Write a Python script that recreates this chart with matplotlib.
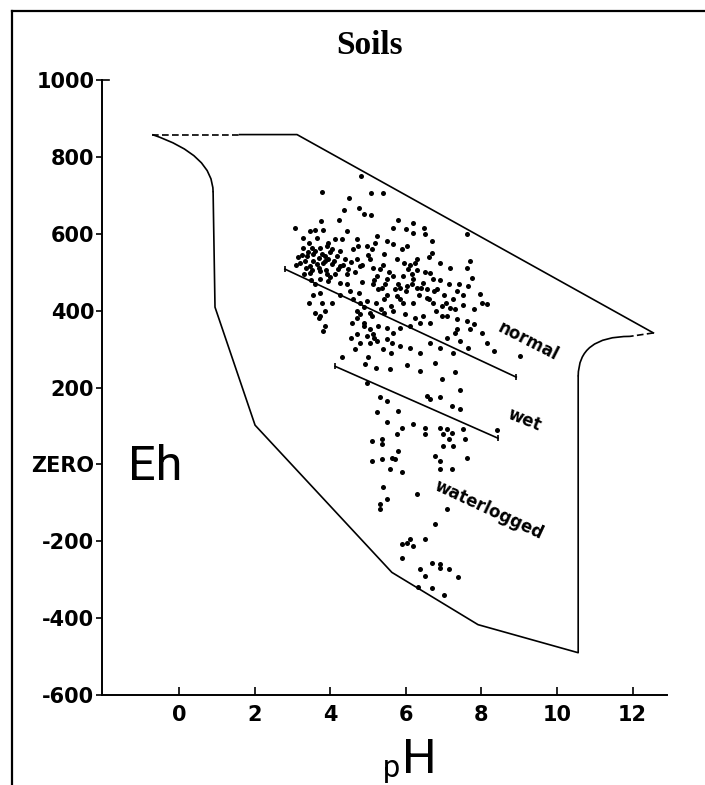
import matplotlib
matplotlib.use("Agg")
import matplotlib.pyplot as plt
from matplotlib.path import Path
from matplotlib.patches import PathPatch
from matplotlib.lines import Line2D

# ---------------- data ----------------
title = "Soils"
y_ticks = [1000, 800, 600, 400, 200, 0, -200, -400, -600]
y_tick_labels = ["1000", "800", "600", "400", "200", "ZERO", "-200", "-400", "-600"]
x_ticks = [0, 2, 4, 6, 8, 10, 12]
x_tick_labels = ["0", "2", "4", "6", "8", "10", "12"]

# envelope of natural environments
top_dash_ph = [-0.71, 1.6]
top_dash_eh = [858, 858]
outline_ph = [1.6, 3.12, 12.55]
outline_eh = [858, 858, 342]
tip_dash_ph = [12.55, 11.93]
tip_dash_eh = [342, 333]
right_curve_ph = [11.93, 10.56, 10.56]
right_curve_eh = [333, 333, 229]
lower_ph = [10.56, 10.56, 7.91, 5.63, 2.01, 0.95, 0.90]
lower_eh = [229, -490, -417, -281, 102, 409, 708]
left_curve_ph = [0.90, 0.90, -0.71]
left_curve_eh = [708, 805, 858]

# dividing lines
normal_ph = [2.80, 8.92]
normal_eh = [508, 227]
wet_ph = [4.13, 8.44]
wet_eh = [255, 68]

zone_labels = ["normal", "wet", "waterlogged"]
zone_label_ph = [9.23, 9.15, 8.20]
zone_label_eh = [320, 117, -117]
zone_label_rot = [-27, -22, -25]

# soil measurements (pH, Eh in mV)
soil_ph = [
    4.81, 3.79, 5.08, 5.39, 4.50, 4.37, 4.77, 4.89, 5.08, 3.75, 4.24, 5.80, 6.18,
    3.08, 3.47, 3.60, 3.80, 3.29, 3.64, 4.13, 4.30, 4.44, 4.72, 5.23, 5.67, 6.01,
    6.20, 6.49, 6.51, 6.68, 7.61, 4.73, 4.96, 5.19, 5.67, 6.02, 6.68, 3.29, 3.51,
    3.73, 3.91, 4.04, 4.26, 3.38, 3.55, 3.69, 3.86, 3.95, 4.17, 4.39, 4.70, 5.05,
    5.41, 5.76, 6.29, 6.90, 7.70, 3.20, 3.33, 3.47, 3.64, 3.82, 4.04, 4.26, 4.48,
    4.79, 5.14, 5.32, 6.07, 6.16, 6.64, 7.17, 7.61, 7.74, 3.47, 3.73, 3.91, 4.13,
    4.44, 5.23, 5.49, 5.67, 5.93, 6.20, 6.46, 6.73, 7.13, 7.65, 3.73, 3.95, 4.26,
    4.52, 5.14, 5.36, 5.85, 6.02, 6.29, 6.55, 6.82, 7.35, 7.96, 8.14, 3.73, 4.04,
    3.77, 4.79, 4.96, 5.41, 5.76, 5.93, 6.20, 6.55, 6.73, 6.95, 7.17, 7.52, 8.01,
    3.73, 3.86, 4.70, 4.79, 5.10, 5.41, 5.67, 5.98, 6.24, 6.46, 6.64, 7.08, 7.35,
    7.61, 7.79, 3.86, 3.82, 4.57, 4.88, 5.05, 5.27, 5.49, 5.85, 6.11, 6.38, 7.35,
    7.70, 8.01, 7.30, 4.70, 4.96, 5.14, 5.67, 7.08, 7.43, 7.65, 8.14, 8.32, 4.79,
    5.05, 5.23, 5.49, 5.63, 5.85, 6.11, 6.38, 6.64, 6.90, 7.26, 9.02, 4.30, 4.92,
    5.58, 6.02, 6.38, 6.77, 6.95, 7.30, 7.43, 6.55, 6.64, 6.90, 7.21, 4.96, 5.32,
    5.49, 5.80, 5.23, 7.43,
    6.18, 6.51, 6.51, 6.90, 7.08, 6.99, 7.21, 7.13, 7.52, 7.57, 8.40, 5.76, 5.10,
    5.36, 5.36, 5.10, 5.36, 5.63, 5.71, 5.80, 5.58, 5.89, 6.77, 6.90, 6.90, 7.21,
    6.99, 7.26, 7.61, 5.39, 5.49, 5.32, 5.32, 6.29, 7.08, 6.77, 6.11, 6.02, 5.89,
    6.20, 6.51, 5.89, 6.68, 6.90, 6.90, 7.13, 6.38, 6.51, 7.39, 6.33, 6.68, 7.01,
    5.51, 5.89,
    3.25, 3.40, 3.55, 3.60, 3.78, 3.85, 3.98, 4.10, 4.20, 3.35, 3.52, 3.70, 3.88,
    4.00, 4.35, 4.55, 3.15, 3.45, 3.95, 4.60, 5.00, 5.40, 5.55, 5.80, 6.00, 6.35,
    6.50, 6.90, 7.00, 5.95, 6.25, 4.85, 5.25, 7.40, 7.25, 6.80, 6.95, 5.60, 4.45,
    4.25, 3.60, 3.55,
    4.60, 4.75, 4.90, 5.05, 5.20, 5.35, 5.50, 5.70, 5.85, 6.15, 6.40, 6.60, 6.75,
    7.05, 7.30, 7.50, 7.80, 6.10, 6.30, 6.60, 5.10, 5.50, 5.90, 4.65, 4.85, 5.15,
    5.45, 4.70, 4.90, 5.15, 5.40, 5.60, 4.55, 4.65, 5.00, 5.20, 3.45, 3.60, 3.70,
    3.50, 3.30, 3.10,
]
soil_eh = [
    749, 709, 705, 707, 693, 662, 668, 651, 648, 632, 635, 636, 629,
    614, 608, 610, 610, 588, 590, 586, 586, 608, 586, 595, 616, 612,
    603, 616, 599, 582, 599, 567, 569, 577, 573, 569, 551, 562, 562,
    564, 569, 560, 556, 543, 547, 538, 543, 534, 543, 534, 534, 534,
    547, 534, 534, 523, 530, 525, 530, 517, 521, 525, 521, 517, 508,
    517, 512, 508, 508, 495, 499, 510, 512, 486, 499, 503, 495, 495,
    495, 490, 482, 490, 490, 482, 473, 482, 469, 464, 482, 477, 473,
    451, 469, 460, 460, 464, 460, 456, 456, 451, 443, 417, 447, 419,
    419, 421, 425, 430, 438, 421, 421, 434, 421, 412, 408, 414, 421,
    386, 399, 399, 391, 386, 395, 399, 391, 382, 386, 369, 386, 378,
    373, 365, 360, 347, 367, 369, 352, 360, 356, 356, 360, 369, 352,
    352, 343, 343, 339, 334, 339, 343, 330, 321, 304, 317, 295, 317,
    317, 321, 326, 317, 308, 304, 291, 317, 304, 291, 282, 280, 260,
    249, 258, 243, 265, 221, 240, 193, 178, 169, 174, 152, 213, 174,
    165, 139, 135, 143,
    104, 95, 78, 95, 91, 78, 82, 65, 91, 65, 89, 78, 61,
    65, 52, 10, 13, 16, 13, 35, -11, -20, 23, 9, -11, -11,
    48, 48, 16, -58, -91, -102, -117, -78, -115, -156, -194, -204, -207,
    -213, -194, -243, -256, -259, -269, -271, -273, -291, -293, -319, -321, -341,
    111, 95,
    545, 552, 530, 555, 548, 530, 552, 530, 508, 510, 505, 512, 505,
    488, 520, 527, 540, 575, 575, 560, 545, 520, 500, 470, 450, 440,
    500, 480, 440, 525, 525, 475, 455, 470, 430, 400, 385, 412, 470,
    440, 470, 440,
    430, 445, 410, 395, 420, 405, 440, 455, 430, 470, 460, 430, 450,
    420, 405, 440, 405, 520, 505, 540, 560, 580, 560, 500, 520, 480,
    470, 380, 360, 330, 300, 290, 330, 300, 280, 250, 420, 395, 380,
    480, 495, 520,
]

# ---------------- figure ----------------
W, H = 705, 785
fig = plt.figure(figsize=(W / 100, H / 100), dpi=100)
fig.patch.set_facecolor("white")

ax_left, ax_right, ax_bottom, ax_top = 102, 667, 695, 80
ax = fig.add_axes([ax_left / W, 1 - ax_bottom / H,
                   (ax_right - ax_left) / W, (ax_bottom - ax_top) / H])
ax.set_xlim(-2.04, 12.91)
ax.set_ylim(-600, 1000)

for s in ("top", "right"):
    ax.spines[s].set_visible(False)
for s in ("left", "bottom"):
    ax.spines[s].set_linewidth(1.4)
    ax.spines[s].set_color("black")

lw = 1.2
ax.plot(top_dash_ph, top_dash_eh, color="black", lw=lw, ls=(0, (4, 2)))
ax.plot(outline_ph, outline_eh, color="black", lw=lw)
ax.plot(tip_dash_ph, tip_dash_eh, color="black", lw=lw, ls=(0, (4, 2)))
ax.plot(lower_ph, lower_eh, color="black", lw=lw)
for cph, ceh in ((right_curve_ph, right_curve_eh), (left_curve_ph, left_curve_eh)):
    path = Path(list(zip(cph, ceh)), [Path.MOVETO, Path.CURVE3, Path.CURVE3])
    ax.add_patch(PathPatch(path, fill=False, edgecolor="black", lw=lw))

ax.plot(normal_ph, normal_eh, color="black", lw=lw, marker="|", ms=5, mew=1.2)
ax.plot(wet_ph, wet_eh, color="black", lw=lw, marker="|", ms=5, mew=1.2)

ax.scatter(soil_ph, soil_eh, s=13, color="black", linewidths=0, zorder=3)

for lab, px, py, rot in zip(zone_labels, zone_label_ph, zone_label_eh, zone_label_rot):
    ax.text(px, py, lab, rotation=rot, rotation_mode="anchor", ha="center",
            va="center", fontsize=12, fontweight="bold", family="DejaVu Sans")

ax.text(-1.35, -8, "Eh", ha="left", va="center", fontsize=35,
        family="Roboto", fontweight="normal")

# ticks
ax.set_yticks(y_ticks)
ax.set_yticklabels(y_tick_labels)
ax.set_xticks(x_ticks)
ax.set_xticklabels(x_tick_labels)
ax.tick_params(axis="y", direction="out", length=4, width=1.2, pad=1.5,
               labelsize=15)
ax.tick_params(axis="x", direction="in", length=6, width=1.2, pad=7,
               labelsize=15)
for t in ax.get_yticklabels() + ax.get_xticklabels():
    t.set_fontweight("bold")
    t.set_family("DejaVu Sans")
# small right-pointing tick at the top of the Eh axis
ax.add_line(Line2D([0, 0.012], [1, 1], transform=ax.transAxes, color="black",
                   lw=1.2, clip_on=False))

# axis title pH (subscript p)
fig.text(402 / W, 1 - 773 / H, "H", ha="left", va="baseline", fontsize=35,
         family="Roboto", fontweight="normal")
fig.text(400 / W, 1 - 777 / H, "p", ha="right", va="baseline", fontsize=22,
         family="Roboto", fontweight="normal")

# title
fig.text(370 / W, 1 - 46 / H, title, ha="center", va="center", fontsize=24,
         family="Liberation Serif", fontweight="bold")

# frame lines of the scanned page
fig.add_artist(Line2D([12 / W, 12 / W], [0, 1 - 11 / H], color="black", lw=1.6))
fig.add_artist(Line2D([12 / W, 1], [1 - 11 / H, 1 - 11 / H], color="black", lw=1.6))

fig.savefig("out.png", dpi=100)
